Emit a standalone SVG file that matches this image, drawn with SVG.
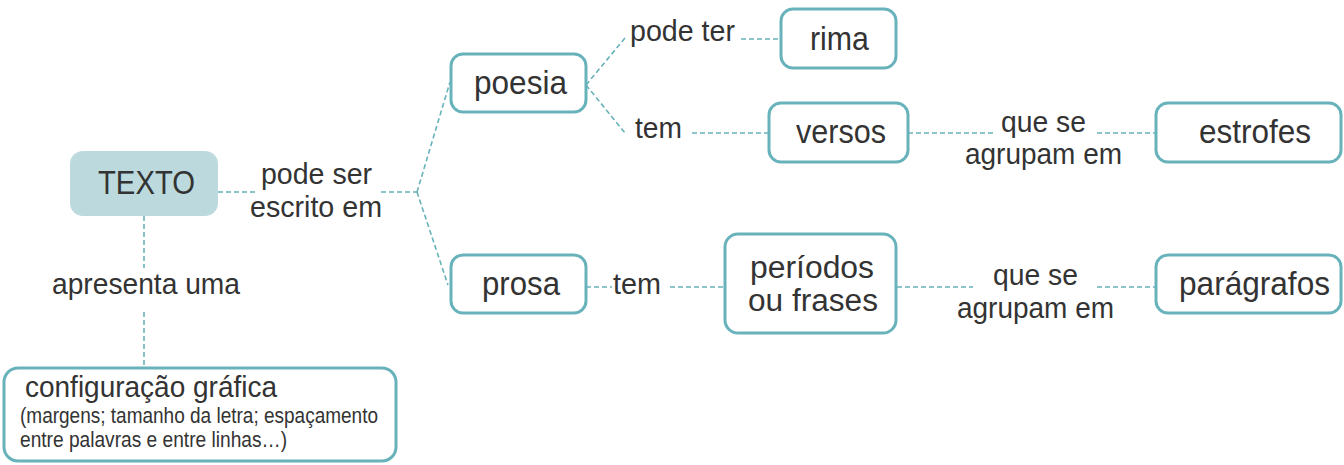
<svg xmlns="http://www.w3.org/2000/svg" width="1344" height="465" viewBox="0 0 1344 465">
<style>
.box{fill:#fff;stroke:#68b3bb;stroke-width:3}
.main{fill:#bcdadd;stroke:none}
.con{stroke:#68b3bb;stroke-width:1.6;stroke-dasharray:5 3;fill:none}
text{font-family:"Liberation Sans",Arial,sans-serif;fill:#333}
.lbl{font-size:30px}
.big{font-size:33px}
.mid{font-size:31px}
.sm{font-size:22px}
</style>
<rect width="1344" height="465" fill="#fff"/>
<g id="connectors">
<line class="con" x1="218" y1="192" x2="255" y2="192"/>
<line class="con" x1="381" y1="192" x2="417" y2="192"/>
<line class="con" x1="417" y1="192" x2="450" y2="82"/>
<line class="con" x1="417" y1="192" x2="448" y2="285"/>
<line class="con" x1="144" y1="216" x2="144" y2="268"/>
<line class="con" x1="144" y1="312" x2="144" y2="366"/>
<line class="con" x1="586" y1="85" x2="625" y2="38"/>
<line class="con" x1="586" y1="85" x2="625" y2="133"/>
<line class="con" x1="741" y1="39" x2="781" y2="39"/>
<line class="con" x1="692" y1="133" x2="769" y2="133"/>
<line class="con" x1="908" y1="133" x2="993" y2="133"/>
<line class="con" x1="1097" y1="133" x2="1156" y2="133"/>
<line class="con" x1="586" y1="287" x2="612" y2="287"/>
<line class="con" x1="670" y1="287" x2="725" y2="287"/>
<line class="con" x1="897" y1="287" x2="973" y2="287"/>
<line class="con" x1="1097" y1="287" x2="1156" y2="287"/>
</g>
<g id="labels">
<text class="lbl" x="261" y="184" textLength="111" lengthAdjust="spacingAndGlyphs">pode ser</text>
<text class="lbl" x="250" y="217" textLength="132" lengthAdjust="spacingAndGlyphs">escrito em</text>
<text class="lbl" x="52" y="294" textLength="188" lengthAdjust="spacingAndGlyphs">apresenta uma</text>
<text class="lbl" x="630" y="41" textLength="105" lengthAdjust="spacingAndGlyphs">pode ter</text>
<text class="lbl" x="635" y="138" textLength="47" lengthAdjust="spacingAndGlyphs">tem</text>
<text class="lbl" x="1001" y="132" textLength="85" lengthAdjust="spacingAndGlyphs">que se</text>
<text class="lbl" x="965" y="164" textLength="157" lengthAdjust="spacingAndGlyphs">agrupam em</text>
<text class="lbl" x="613" y="294" textLength="48" lengthAdjust="spacingAndGlyphs">tem</text>
<text class="lbl" x="993" y="285" textLength="85" lengthAdjust="spacingAndGlyphs">que se</text>
<text class="lbl" x="957" y="318" textLength="157" lengthAdjust="spacingAndGlyphs">agrupam em</text>
</g>
<g id="node-texto">
<rect class="main" x="70" y="151" width="148" height="65" rx="13"/>
<text class="big" x="98" y="194" textLength="97" lengthAdjust="spacingAndGlyphs">TEXTO</text>
</g>
<g id="node-config">
<rect class="box" x="4" y="368" width="392" height="93" rx="14"/>
<text class="lbl" x="25" y="397" textLength="252" lengthAdjust="spacingAndGlyphs">configuração gráfica</text>
<text class="sm" x="20" y="423" textLength="358" lengthAdjust="spacingAndGlyphs">(margens; tamanho da letra; espaçamento</text>
<text class="sm" x="20" y="447" textLength="267" lengthAdjust="spacingAndGlyphs">entre palavras e entre linhas…)</text>
</g>
<g id="node-poesia">
<rect class="box" x="451" y="54" width="135" height="58" rx="12"/>
<text class="big" x="474" y="94" textLength="93" lengthAdjust="spacingAndGlyphs">poesia</text>
</g>
<g id="node-rima">
<rect class="box" x="781" y="9" width="115" height="59" rx="12"/>
<text class="big" x="810" y="50" textLength="59" lengthAdjust="spacingAndGlyphs">rima</text>
</g>
<g id="node-versos">
<rect class="box" x="769" y="103" width="139" height="59" rx="12"/>
<text class="big" x="796" y="143" textLength="90" lengthAdjust="spacingAndGlyphs">versos</text>
</g>
<g id="node-estrofes">
<rect class="box" x="1156" y="103" width="185" height="59" rx="12"/>
<text class="big" x="1199" y="143" textLength="112" lengthAdjust="spacingAndGlyphs">estrofes</text>
</g>
<g id="node-prosa">
<rect class="box" x="451" y="255" width="135" height="58" rx="12"/>
<text class="big" x="482" y="295" textLength="78" lengthAdjust="spacingAndGlyphs">prosa</text>
</g>
<g id="node-periodos">
<rect class="box" x="725" y="234" width="171" height="99" rx="13"/>
<text class="mid" x="750" y="278" textLength="124" lengthAdjust="spacingAndGlyphs">períodos</text>
<text class="mid" x="748" y="311" textLength="130" lengthAdjust="spacingAndGlyphs">ou frases</text>
</g>
<g id="node-paragrafos">
<rect class="box" x="1156" y="255" width="185" height="58" rx="12"/>
<text class="big" x="1179" y="295" textLength="151" lengthAdjust="spacingAndGlyphs">parágrafos</text>
</g>
</svg>
